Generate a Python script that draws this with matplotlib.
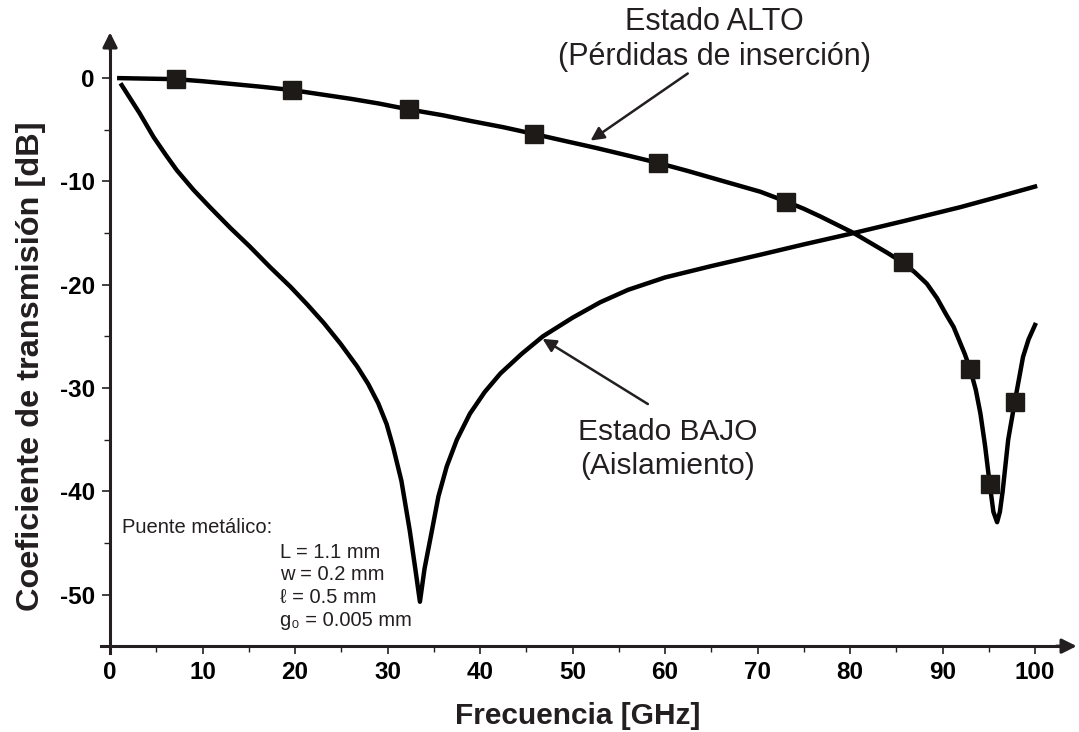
import numpy as np
import matplotlib.pyplot as plt

plt.rcParams['font.family'] = ['Liberation Sans', 'DejaVu Sans']
plt.rcParams['axes.unicode_minus'] = False

# Estado ALTO (pérdidas de inserción): curva
alto_f = [1.0, 4, 7.1, 10, 13, 16.5, 19.7, 23, 26, 29, 32.3, 36, 39, 42.5, 45.8,
          49, 52.5, 56, 59.2, 62.5, 66, 70.3, 73.1, 75, 76.8, 78.6, 80.4, 82.2,
          84, 85.7, 87, 88.3, 89.4, 90.4, 91.2, 91.8, 92.4, 93.0, 93.6, 94.1,
          94.6, 95.1, 95.5, 95.9, 96.2, 96.5, 96.8, 97.1, 97.8, 98.7, 99.3, 100]
alto_db = [0.0, -0.05, -0.1, -0.3, -0.55, -0.85, -1.16, -1.6, -2.0, -2.45, -3.03,
           -3.6, -4.15, -4.75, -5.4, -6.05, -6.75, -7.5, -8.2, -9.0, -9.9, -11.0,
           -11.95, -12.65, -13.4, -14.2, -15.0, -15.95, -16.9, -17.85, -18.8,
           -19.9, -21.3, -22.9, -24.1, -25.4, -26.7, -28.2, -30.2, -32.5, -35.6,
           -39.3, -42.0, -43.0, -42.0, -40.0, -37.5, -35.0, -31.4, -27.0, -25.3,
           -23.9]

# marcadores cuadrados
alto_mk_f = [7.1, 19.7, 32.3, 45.8, 59.2, 73.1, 85.7, 93.0, 95.1, 97.8]
alto_mk_db = [-0.1, -1.16, -3.03, -5.4, -8.2, -11.95, -17.85, -28.2, -39.3, -31.4]

# Estado BAJO (aislamiento)
bajo_f = [1.26, 2.2, 3.2, 4.7, 6.0, 7.2, 9.0, 10.8, 13.0, 15.1, 17.3, 19.5, 21.3,
          23.1, 24.9, 26.7, 27.9, 29.0, 29.9, 30.6, 31.5, 32.4, 33.0, 33.5, 34.0,
          34.8, 35.5, 36.4, 37.5, 38.9, 40.5, 42.2, 44.5, 46.8, 50, 53, 56, 60,
          65, 70.3, 75, 80.4, 86, 91.9, 96, 100]
bajo_db = [-0.68, -2.0, -3.4, -5.7, -7.4, -8.9, -10.8, -12.5, -14.5, -16.3, -18.3,
           -20.2, -21.9, -23.7, -25.7, -27.9, -29.6, -31.5, -33.5, -35.7, -39.0,
           -43.8, -47.5, -50.7, -47.5, -43.8, -40.5, -37.6, -35.0, -32.5, -30.4,
           -28.6, -26.7, -25.0, -23.2, -21.7, -20.5, -19.3, -18.2, -17.1, -16.1,
           -15.0, -13.8, -12.5, -11.5, -10.5]

xticks = [0, 10, 20, 30, 40, 50, 60, 70, 80, 90, 100]
yticks = [0, -10, -20, -30, -40, -50]

fig = plt.figure(figsize=(10.79, 7.32), dpi=100)
ax = fig.add_axes([0.0917, 0.106, 0.9087, 0.855])
ax.set_xlim(-1.2, 104.8)
ax.set_ylim(-55.8, 4.8)

tc = '#231f20'
ax.plot(alto_f, alto_db, color='black', lw=3.2, solid_joinstyle='round')
ax.plot(bajo_f, bajo_db, color='black', lw=3.2, solid_joinstyle='round')
ax.plot(alto_mk_f, alto_mk_db, 's', color='#1e1a17', ms=13, ls='none')

# ejes con flechas
for s in ['top', 'right']:
    ax.spines[s].set_visible(False)
ax.spines['left'].set_position(('data', 0))
ax.spines['bottom'].set_position(('data', -55))
ax.spines['left'].set_bounds(-55.7, 3.5)
ax.spines['bottom'].set_bounds(-1.0, 103)
for s in ['left', 'bottom']:
    ax.spines[s].set_linewidth(2.2)
    ax.spines[s].set_color(tc)
ax.annotate('', xy=(0, 4.7), xytext=(0, 2.5),
            arrowprops=dict(arrowstyle='-|>', mutation_scale=22, color=tc, lw=2.2),
            annotation_clip=False)
ax.annotate('', xy=(104.8, -55), xytext=(102, -55),
            arrowprops=dict(arrowstyle='-|>', mutation_scale=22, color=tc, lw=2.2),
            annotation_clip=False)

ax.set_xticks(xticks)
ax.set_yticks(yticks)
ax.set_xticks(np.arange(5, 100, 10), minor=True)
ax.set_yticks(np.arange(-45, 0, 10), minor=True)
ax.tick_params(which='major', length=6, width=1.2, color=tc, direction='out')
ax.tick_params(which='minor', length=4, width=1.0, color=tc, direction='out')
ax.tick_params(axis='both', labelsize=17.5, labelcolor='black')
ax.tick_params(axis='x', pad=5)
ax.tick_params(axis='y', pad=5)
for lab in ax.get_xticklabels() + ax.get_yticklabels():
    lab.set_fontweight('bold')

ax.set_xlabel('Frecuencia [GHz]', fontsize=21.5, fontweight='bold', color=tc)
ax.set_ylabel('Coeficiente de transmisión [dB]', fontsize=23.4, fontweight='bold',
              color=tc)
ax.xaxis.set_label_coords(0.4886, -0.076)
ax.yaxis.set_label_coords(-0.054, 0.461)

# anotaciones
ax.text(65.3, 5.4, 'Estado ALTO', fontsize=22, color=tc, ha='center', va='center',
        clip_on=False)
ax.text(65.3, 2.0, '(Pérdidas de inserción)', fontsize=22, color=tc, ha='center',
        va='center', clip_on=False)
ax.annotate('', xy=(51.7, -6.2), xytext=(62.7, 0.6),
            arrowprops=dict(arrowstyle='-|>', mutation_scale=20, color=tc, lw=1.8))

ax.text(60.3, -34.3, 'Estado BAJO', fontsize=21.5, color=tc, ha='center', va='center')
ax.text(60.3, -37.6, '(Aislamiento)', fontsize=21.5, color=tc, ha='center', va='center')
ax.annotate('', xy=(46.5, -25.1), xytext=(58.4, -31.7),
            arrowprops=dict(arrowstyle='-|>', mutation_scale=20, color=tc, lw=1.8))

ax.text(1.3, -43.5, 'Puente metálico:', fontsize=14.5, color=tc, ha='left', va='center')
params = ['L = 1.1 mm', 'w = 0.2 mm', 'ℓ = 0.5 mm', 'g₀ = 0.005 mm']
for i, p in enumerate(params):
    ax.text(18.4, -45.9 - 2.2 * i, p, fontsize=14.5, color=tc, ha='left', va='center')

fig.savefig('out.png', dpi=100)
